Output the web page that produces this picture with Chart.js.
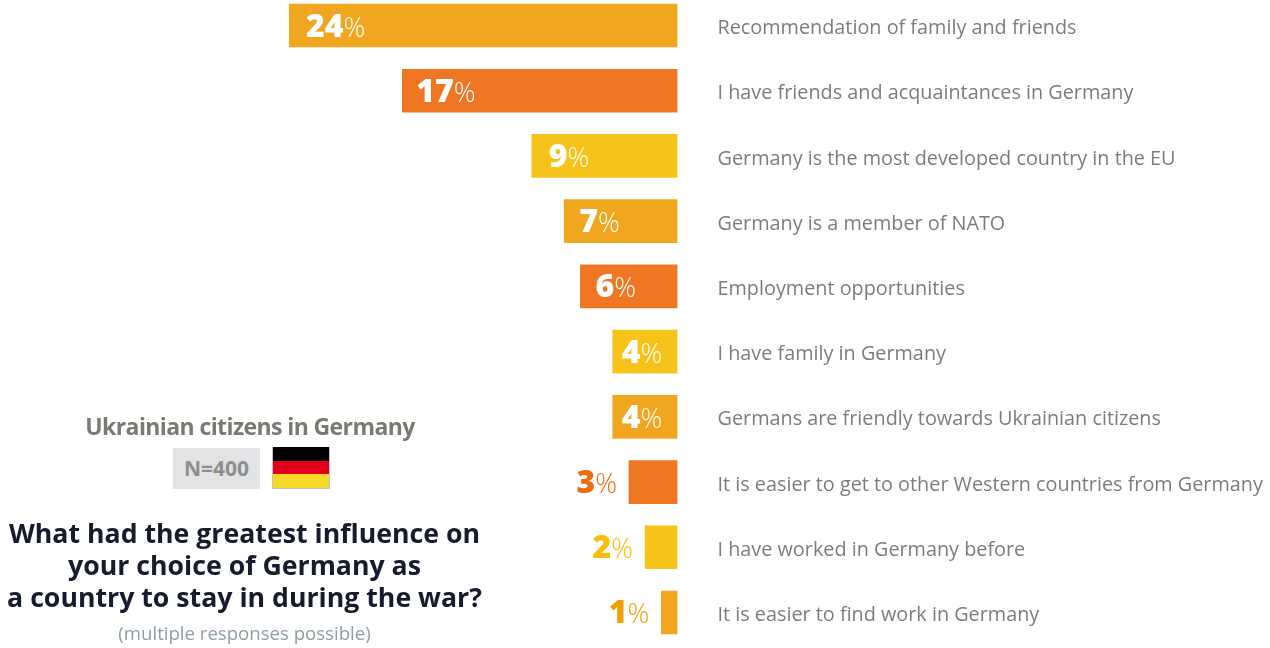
<!DOCTYPE html>
<html>
<head>
<meta charset="utf-8">
<title>Choice of Germany</title>
<script src="https://cdn.jsdelivr.net/npm/chart.js@4"></script>
<style>
  html, body { margin: 0; padding: 0; background: #fff; overflow: hidden; }
  body { width: 1270px; height: 648px; position: relative; font-family: "Open Sans", sans-serif; }
  #myBarChart { position: absolute; left: 0; top: -8px; }
  .txt { position: absolute; white-space: nowrap; text-align: center; }
  #group { left: 50px; width: 400px; top: 409px; font-size: 23px; line-height: 34px; font-weight: 700; color: #7b7a72; letter-spacing: -0.6px; }
  #nBox { left: 173px; top: 448px; width: 87px; height: 41px; line-height: 41px; background: #e2e3e5; font-size: 21px; font-weight: 700; color: #8f8f8f; }
  #flag { position: absolute; left: 272px; top: 447px; width: 56px; height: 41px; border: 1px solid #c4c4c4; border-top: 0; border-left-width: 1px;
    background: linear-gradient(#000 0 14px, #e2001a 14px 27px, #f5d928 27px); }
  #question { left: 0; width: 489px; top: 517px; font-size: 26.7px; line-height: 32px; font-weight: 700; color: #171b2e; }
  #note { left: 0; width: 489px; top: 620px; font-size: 18.6px; line-height: 26px; color: #8f9ea3; }
</style>
</head>
<body>
<canvas id="myBarChart" width="1270" height="666"></canvas>
<div class="txt" id="group">Ukrainian citizens in Germany</div>
<div class="txt" id="nBox">N=400</div>
<div id="flag"></div>
<div class="txt" id="question">What had the greatest influence on<br>your choice of Germany as<br>a country to stay in during the war?</div>
<div class="txt" id="note">(multiple responses possible)</div>
<script>
const categories = [
    'Recommendation of family and friends',
    'I have friends and acquaintances in Germany',
    'Germany is the most developed country in the EU',
    'Germany is a member of NATO',
    'Employment opportunities',
    'I have family in Germany',
    'Germans are friendly towards Ukrainian citizens',
    'It is easier to get to other Western countries from Germany',
    'I have worked in Germany before',
    'It is easier to find work in Germany'
];
const values = [24, 17, 9, 7, 6, 4, 4, 3, 2, 1];
const barColors = ['#f0a71f', '#ef7622', '#f5c31a', '#f0a71f', '#ef7622', '#f5c31a', '#f0a71f', '#ef7622', '#f5c31a', '#f0a71f'];
const outsideColors = {3: '#ee6c0c', 2: '#fbbc05', 1: '#f0a000'};

// how far the number starts from the bar's left edge
function labelInset(v) {
    if (v === 24) return 17;
    if (v === 17) return 14;
    if (v === 4) return 9;
    return v === 9 ? 17 : 15;
}

// big bold number + thin percent sign, white inside the bar, coloured next to small ones
const valueLabels = {
    id: 'valueLabels',
    afterDatasetsDraw(chart) {
        const ctx = chart.ctx;
        const bars = chart.getDatasetMeta(0).data;
        ctx.save();
        ctx.textBaseline = 'alphabetic';
        ctx.textAlign = 'left';
        bars.forEach(function (bar, i) {
            const v = values[i];
            const num = String(v);
            ctx.font = '800 32px "Open Sans"';
            const numW = ctx.measureText(num).width;
            ctx.font = '300 27px "Open Sans"';
            const pctW = ctx.measureText('%').width;
            const inside = v >= 4;
            const start = inside ? bar.x + labelInset(v) : bar.x - 12 - numW - pctW;
            const base = bar.y + 11;
            ctx.fillStyle = inside ? '#fff' : outsideColors[v];
            ctx.font = '800 32px "Open Sans"';
            ctx.fillText(num, start, base);
            ctx.font = '300 27px "Open Sans"';
            ctx.fillText('%', start + numW, base);
        });
        ctx.restore();
    }
};

new Chart(document.getElementById('myBarChart').getContext('2d'), {
    type: 'bar',
    data: {
        labels: categories,
        datasets: [{
            data: values,
            backgroundColor: barColors,
            barThickness: 43
        }]
    },
    options: {
        indexAxis: 'y',
        responsive: false,
        animation: false,
        layout: {padding: {left: 289, top: 0.9, bottom: 12.9}},
        plugins: {legend: {display: false}, tooltip: {enabled: false}},
        scales: {
            x: {reverse: true, min: 0, max: 24, display: false},
            y: {
                position: 'right',
                grid: {display: false, drawTicks: false},
                border: {display: false},
                afterFit(scale) {
                    // tick padding also pads the axis ends, keep only the sideways part
                    scale.width = 592.5;
                    scale.paddingTop = 0;
                    scale.paddingBottom = 0;
                },
                ticks: {
                    padding: 40,
                    autoSkip: false,
                    color: '#7d7d78',
                    // empty first line nudges the label 3px below the bar centre
                    callback(value) { return ['', categories[value]]; },
                    font: {family: '"Open Sans"', size: 19.82, lineHeight: 0.303}
                }
            }
        }
    },
    plugins: [valueLabels]
});
</script>
</body>
</html>
